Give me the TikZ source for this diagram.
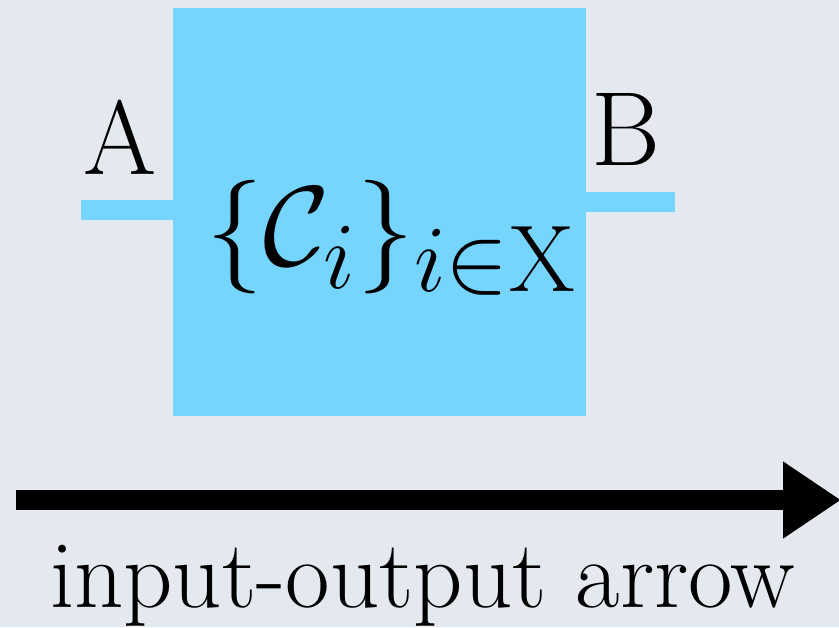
\documentclass[tikz,border=0pt]{standalone}
\usepackage{amsmath}
\usetikzlibrary{arrows.meta}
\usetikzlibrary{positioning}
\DeclareMathSizes{24.88}{24.88}{20.74}{17.28}
\definecolor{paper}{RGB}{228,233,240}
\definecolor{boxblue}{RGB}{117,213,255}

\begin{document}
\begin{tikzpicture}[x=0.02cm, y=-0.02cm,
    block/.style = {fill=boxblue, minimum width=8.26cm, minimum height=8.16cm, inner sep=0pt},
    wire/.style = {boxblue, line width=0.41cm},
    lbl/.style = {font=\fontsize{60}{64}\selectfont, inner sep=0pt},
    ioarrow/.style = {line width=0.4cm, -{Triangle[length=1.16cm, width=1.46cm]}}]
    \fill[paper] (0,0) rectangle (839,627);
    \useasboundingbox (0,0) rectangle (839,627);
    \node[block] (box) at (379.5,212) {};
    \coordinate (inA) at (81,210);
    \coordinate (outB) at (675,202);
    \draw[wire] (inA) -- (inA -| box.west);
    \draw[wire] (outB -| box.east) -- (outB);
    \node[lbl] (labA) at (120,137.5) {A};
    \node[lbl] (labB) at (626,129) {B};
    \node[inner sep=0pt, font=\fontsize{24.88}{30}\selectfont, scale=2.6, transform shape] (fam) at (392,238) {$\{\mathcal{C}_i\}_{i\in\mathrm{X}}$};
    \coordinate (ioS) at (16,500);
    \coordinate (ioE) at (841,500);
    \draw[ioarrow] (ioS) -- (ioE);
    \node[inner sep=0pt, anchor=base, font=\fontsize{55}{60}\selectfont] (iotext) at (422.5,607) {input-output arrow};
\end{tikzpicture}
\end{document}
